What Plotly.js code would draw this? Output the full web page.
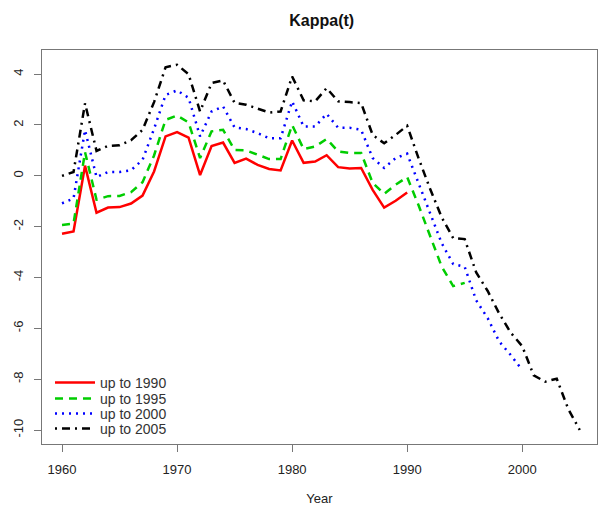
<!DOCTYPE html>
<html>
<head>
<meta charset="utf-8">
<script src="https://cdn.plot.ly/plotly-3.0.1.min.js"></script>
<style>html,body{margin:0;padding:0;background:#fff}#chart{width:598px;height:506px}</style>
</head>
<body>
<div id="chart"></div>
<script>
// ---- data ----
const years = [1960,1961,1962,1963,1964,1965,1966,1967,1968,1969,1970,1971,1972,1973,1974,1975,1976,1977,1978,1979,1980,1981,1982,1983,1984,1985,1986,1987,1988,1989,1990,1991,1992,1993,1994,1995,1996,1997,1998,1999,2000,2001,2002,2003,2004,2005];

const upTo1990 = [-2.28,-2.19,0.40,-1.45,-1.25,-1.23,-1.09,-0.78,0.17,1.55,1.72,1.50,0.03,1.17,1.31,0.51,0.68,0.43,0.27,0.21,1.39,0.51,0.56,0.81,0.34,0.29,0.31,-0.55,-1.25,-0.98,-0.66];

const upTo1995 = [-1.93,-1.88,0.93,-0.94,-0.80,-0.79,-0.64,-0.25,0.80,2.20,2.37,2.10,0.70,1.75,1.81,1.02,1.00,0.83,0.66,0.66,2.00,1.05,1.15,1.45,0.96,0.90,0.90,-0.28,-0.71,-0.35,-0.05,-1.17,-2.38,-3.57,-4.34,-4.21];

const upTo2000 = [-1.08,-0.89,1.80,-0.05,0.15,0.15,0.22,0.63,1.85,3.18,3.36,3.07,1.55,2.53,2.73,1.90,1.84,1.68,1.48,1.48,2.93,1.94,1.94,2.44,1.89,1.89,1.81,0.70,0.31,0.70,0.87,-0.32,-1.48,-2.65,-3.47,-3.58,-4.90,-5.60,-6.52,-7.05,-7.64];

const upTo2005 = [0.00,0.15,2.85,0.98,1.18,1.20,1.40,1.81,2.90,4.27,4.37,4.00,2.53,3.65,3.75,2.87,2.80,2.66,2.49,2.53,3.91,2.97,2.93,3.45,2.93,2.90,2.86,1.61,1.28,1.61,1.97,0.68,-0.52,-1.63,-2.45,-2.49,-3.80,-4.53,-5.42,-6.17,-6.70,-7.85,-8.10,-7.98,-9.17,-10.00];

const seriesNames = ["up to 1990","up to 1995","up to 2000","up to 2005"];
const xTickVals = [1960,1970,1980,1990,2000];
const xTickText = ["1960","1970","1980","1990","2000"];
const yTickVals = [-10,-8,-6,-4,-2,0,2,4];
const yTickText = ["-10","-8","-6","-4","-2","0","2","4"];

// ---- styles ----
const FONT = "Liberation Sans, Arial, Helvetica, sans-serif";
const seriesData = [upTo1990, upTo1995, upTo2000, upTo2005];
const colors = ["#ff0000","#00cd00","#0000ff","#000000"];
const dashes = ["solid","8px,6px","2px,5px","2px,5px,8px,5px"];
const legendIds = ["legend","legend2","legend3","legend4"];
const legendY = [383,399,414,429];

const plotTop = 50, plotBottom = 444;
const traces = seriesData.map((vals, i) => ({
  type: "scatter",
  mode: "lines",
  x: years.slice(0, vals.length),
  y: vals,
  name: seriesNames[i],
  legend: legendIds[i],
  line: {color: colors[i], width: 2.5, dash: dashes[i]},
  hoverinfo: "skip"
}));

const axisCommon = {
  showgrid: false,
  zeroline: false,
  showline: true,
  mirror: true,
  linecolor: "#777",
  linewidth: 1,
  ticks: "outside",
  ticklen: 7,
  tickcolor: "#777",
  tickwidth: 1,
  tickfont: {family: FONT, size: 13, color: "#222"},
  tickmode: "array",
  fixedrange: true
};

const layout = {
  width: 598,
  height: 506,
  margin: {l: 42, r: 1, t: plotTop, b: 506 - plotBottom},
  paper_bgcolor: "#fff",
  plot_bgcolor: "#fff",
  title: {
    text: "<b>Kappa(t)</b>",
    font: {family: FONT, size: 16, color: "#111"},
    x: 0.538, xanchor: "center", y: 0.960, yanchor: "middle"
  },
  xaxis: Object.assign({}, axisCommon, {
    range: [1958.26, 2006.5],
    tickvals: xTickVals,
    ticktext: xTickText,
    ticklabelstandoff: 6,
    title: {text: "Year", font: {family: FONT, size: 13, color: "#222"}, standoff: 18}
  }),
  yaxis: Object.assign({}, axisCommon, {
    range: [-10.55, 4.95],
    tickvals: yTickVals,
    ticktext: yTickText,
    tickangle: -90,
    ticklabelstandoff: 6
  }),
  showlegend: true
};

legendIds.forEach((id, i) => {
  layout[id] = {
    x: (50 - 42) / 555,
    xanchor: "left",
    y: (plotBottom - legendY[i]) / (plotBottom - plotTop),
    yanchor: "middle",
    bgcolor: "rgba(0,0,0,0)",
    borderwidth: 0,
    itemwidth: 40,
    font: {family: FONT, size: 14, color: "#333"}
  };
});

Plotly.newPlot("chart", traces, layout, {displayModeBar: false, staticPlot: true});
</script>
</body>
</html>
